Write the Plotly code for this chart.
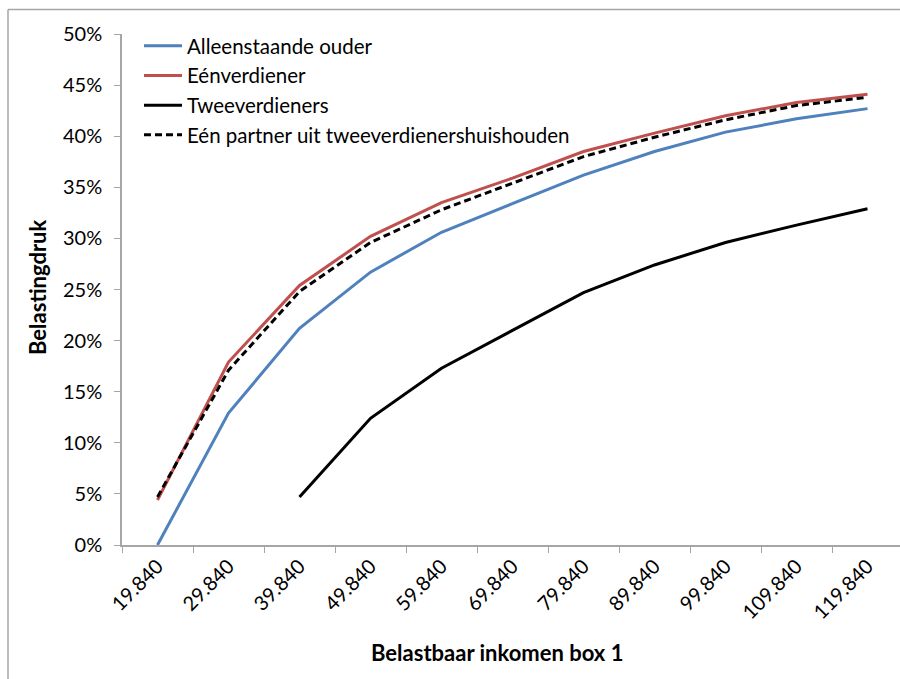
import plotly.graph_objects as go

categories = ["19.840", "29.840", "39.840", "49.840", "59.840", "69.840",
              "79.840", "89.840", "99.840", "109.840", "119.840"]

alleenstaande_ouder = [0.0, 12.9, 21.2, 26.7, 30.6, 33.4, 36.2, 38.5, 40.4, 41.7, 42.7]
eenverdiener = [4.4, 17.9, 25.4, 30.2, 33.5, 35.9, 38.5, 40.3, 42.0, 43.3, 44.1]
tweeverdieners = [None, None, 4.7, 12.4, 17.3, 21.0, 24.7, 27.4, 29.6, 31.3, 32.9]
een_partner = [4.7, 17.1, 24.8, 29.6, 32.8, 35.4, 38.0, 39.9, 41.6, 43.0, 43.8]

y_ticks = [0, 5, 10, 15, 20, 25, 30, 35, 40, 45, 50]
y_tick_labels = [f"{v}%" for v in y_ticks]

FONT = "Lato, 'Noto Sans', sans-serif"

W, H = 900, 679
L, T = 122, 34
PLOT_H = 511
B = H - T - PLOT_H
PLOT_W = W - L


def px_to_paper_x(px):
    return (px - 122) / PLOT_W


def px_to_paper_y(py):
    return (545 - py) / PLOT_H


fig = go.Figure()
fig.add_trace(go.Scatter(x=categories, y=alleenstaande_ouder, mode="lines",
                         name="Alleenstaande ouder",
                         line=dict(color="#4F81BD", width=3)))
fig.add_trace(go.Scatter(x=categories, y=eenverdiener, mode="lines",
                         name="Eénverdiener",
                         line=dict(color="#C0504D", width=3)))
fig.add_trace(go.Scatter(x=categories, y=tweeverdieners, mode="lines",
                         name="Tweeverdieners",
                         line=dict(color="#000000", width=3)))
fig.add_trace(go.Scatter(x=categories, y=een_partner, mode="lines",
                         name="Eén partner uit tweeverdienershuishouden",
                         line=dict(color="#000000", width=3, dash="7px,4px")))

fig.update_layout(
    width=W, height=H,
    margin=dict(l=L, r=0, t=T, b=B, autoexpand=False),
    paper_bgcolor="white", plot_bgcolor="white",
    font=dict(family=FONT, size=20, color="#000000"),
    showlegend=True,
    legend=dict(x=px_to_paper_x(139), y=px_to_paper_y(26), xanchor="left", yanchor="top",
                bgcolor="rgba(0,0,0,0)", font=dict(size=20.5),
                tracegroupgap=0, itemwidth=38),
    xaxis=dict(type="category", range=[-0.5, -0.5 + PLOT_W / 71.0], automargin=False,
               showgrid=False, showline=True, linecolor="#A6A6A6", linewidth=1.5,
               ticks="outside", tickson="boundaries", ticklen=6, tickcolor="#A6A6A6",
               tickangle=-45, tickfont=dict(size=20)),
    yaxis=dict(range=[0, 50], tickmode="array", tickvals=y_ticks, ticktext=y_tick_labels,
               automargin=False,
               showgrid=False, zeroline=False, showline=True, linecolor="#A6A6A6", linewidth=1.5,
               ticks="outside", ticklen=6, tickcolor="#A6A6A6", ticklabelstandoff=8,
               tickfont=dict(size=20)),
)

fig.add_annotation(text="<b>Belastbaar inkomen box 1</b>", xref="paper", yref="paper",
                   x=px_to_paper_x(497), y=px_to_paper_y(652), xanchor="center", yanchor="middle",
                   showarrow=False, font=dict(size=22))
fig.add_annotation(text="<b>Belastingdruk</b>", xref="paper", yref="paper",
                   x=px_to_paper_x(37), y=px_to_paper_y(288), xanchor="center", yanchor="middle",
                   textangle=-90, showarrow=False, font=dict(size=22))

# outer chart border (left and top edges visible)
border = dict(color="#A6A6A6", width=1.5)
fig.add_shape(type="line", xref="paper", yref="paper",
              x0=px_to_paper_x(8), x1=px_to_paper_x(8), y0=px_to_paper_y(9.5), y1=px_to_paper_y(700),
              line=border, layer="below")
fig.add_shape(type="line", xref="paper", yref="paper",
              x0=px_to_paper_x(8), x1=px_to_paper_x(1000), y0=px_to_paper_y(9.5), y1=px_to_paper_y(9.5),
              line=border, layer="below")

fig.write_html(
    "out.html",
    config={"displayModeBar": False},
    post_script=("document.documentElement.style.overflow='hidden';"
                 "document.body.style.overflow='hidden';"
                 "document.body.style.margin='0';"),
)
